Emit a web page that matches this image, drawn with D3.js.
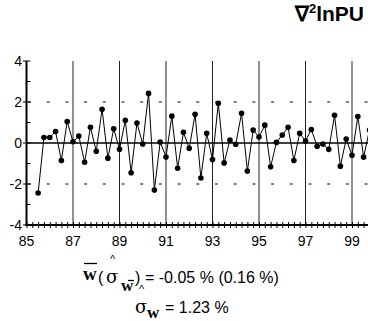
<!DOCTYPE html>
<html>
<head>
<meta charset="utf-8">
<script src="https://cdn.jsdelivr.net/npm/d3@7"></script>
<style>
  body { margin: 0; background: #fff; }
  svg { display: block; }
  text { font-family: "Liberation Sans", Arial, sans-serif; fill: #000; }
  .serif { font-family: "Liberation Serif", "Times New Roman", serif; font-weight: bold; }
  .greek { font-family: "DejaVu Serif", "Liberation Serif", serif; }
</style>
</head>
<body>
<div id="chart"></div>
<script>
// quarterly growth, second difference of ln PU (in %)
var quarters = ['85Q3','85Q4','86Q1','86Q2','86Q3','86Q4','87Q1','87Q2','87Q3','87Q4',
  '88Q1','88Q2','88Q3','88Q4','89Q1','89Q2','89Q3','89Q4','90Q1','90Q2','90Q3','90Q4',
  '91Q1','91Q2','91Q3','91Q4','92Q1','92Q2','92Q3','92Q4','93Q1','93Q2','93Q3','93Q4',
  '94Q1','94Q2','94Q3','94Q4','95Q1','95Q2','95Q3','95Q4','96Q1','96Q2','96Q3','96Q4',
  '97Q1','97Q2','97Q3','97Q4','98Q1','98Q2','98Q3','98Q4','99Q1','99Q2','99Q3','99Q4'];

var values = [-2.44, 0.27, 0.27, 0.56, -0.85, 1.05, 0.06, 0.34, -0.94, 0.77,
  -0.40, 1.65, -0.74, 0.69, -0.31, 1.11, -1.45, 0.97, -0.05, 2.42, -2.29, 0.05,
  -0.68, 1.31, -1.23, 0.52, -0.26, 1.40, -1.71, 0.47, -0.81, 1.94, -0.97, 0.15,
  -0.06, 1.45, -1.37, 0.63, 0.29, 0.87, -1.16, 0.03, 0.39, 0.77, -0.85, 0.47,
  0.10, 0.66, -0.16, -0.05, -0.31, 1.35, -1.13, 0.19, -0.60, 1.29, -0.69, 0.63];

var yearLabels = [85, 87, 89, 91, 93, 95, 97, 99];
var yMajor = [-4, -2, 0, 2, 4];
var yMinor = [-3, -1, 1, 3];
var bandLines = [87, 89, 91, 93, 95, 97, 99];

var width = 368,
    height = 321;

var x = d3.scaleLinear().domain([85, 99]).range([26.5, 352]);
var y = d3.scaleLinear().domain([-4, 4]).range([225, 61]);

function qTime(q) {
  return +q.slice(0, 2) + (+q.slice(3) - 1) / 4;
}

var data = quarters.map(function(q, i) { return { t: qTime(q), v: values[i] }; });

var svg = d3.select("#chart").append("svg")
    .attr("width", width)
    .attr("height", height);

svg.append("rect").attr("width", width).attr("height", height).attr("fill", "#fff");

// title
var title = svg.append("text")
    .attr("x", 364)
    .attr("y", 21)
    .attr("text-anchor", "end")
    .style("font-weight", "bold")
    .style("font-size", "21px");
title.append("tspan").text("∇");
title.append("tspan").attr("dy", -8).style("font-size", "13px").text("2");
title.append("tspan").attr("dy", 8).text("lnPU");

// vertical year lines
svg.selectAll(".vline")
  .data(bandLines)
  .enter().append("line")
  .attr("x1", function(d) { return x(d); })
  .attr("x2", function(d) { return x(d); })
  .attr("y1", y(4))
  .attr("y2", y(-4))
  .style("stroke", "#222")
  .style("stroke-width", "1px");

// dashed lines at +/-2
svg.selectAll(".grid")
  .data([-2, 2])
  .enter().append("line")
  .attr("x1", 28)
  .attr("x2", width)
  .attr("y1", function(d) { return y(d); })
  .attr("y2", function(d) { return y(d); })
  .style("stroke", "#000")
  .style("stroke-width", "1px")
  .style("stroke-dasharray", "3,15.7");

// zero line
svg.append("line")
  .attr("x1", x(85))
  .attr("x2", width)
  .attr("y1", y(0))
  .attr("y2", y(0))
  .style("stroke", "#000")
  .style("stroke-width", "1.5px");

var line = d3.line()
    .x(function(d) { return x(d.t); })
    .y(function(d) { return y(d.v); });

svg.append("path")
  .datum(data)
  .attr("d", line)
  .style("fill", "none")
  .style("stroke", "#000")
  .style("stroke-width", "1px");

svg.selectAll(".pt")
  .data(data)
  .enter().append("circle")
  .attr("cx", function(d) { return x(d.t); })
  .attr("cy", function(d) { return y(d.v); })
  .attr("r", 2.8)
  .attr("fill", "#000");

// x axis: quarterly ticks crossing the axis line
var qTicks = d3.range(85, 101, 0.25);
svg.append("g")
  .attr("transform", "translate(0," + y(-4) + ")")
  .call(d3.axisBottom(x).tickValues(qTicks).tickSize(3).tickFormat(""))
  .call(function(g) { g.select(".domain").remove(); });
svg.append("g")
  .attr("transform", "translate(0," + y(-4) + ")")
  .call(d3.axisTop(x).tickValues(qTicks).tickSize(3).tickFormat(""))
  .call(function(g) { g.select(".domain").remove(); });
svg.selectAll(".tick line").style("stroke", "#000");

svg.append("line")
  .attr("x1", x(85) - 1)
  .attr("x2", width)
  .attr("y1", y(-4))
  .attr("y2", y(-4))
  .style("stroke", "#000")
  .style("stroke-width", "2px");

svg.selectAll(".xlab")
  .data(yearLabels)
  .enter().append("text")
  .attr("x", function(d) { return x(d); })
  .attr("y", 246)
  .attr("text-anchor", "middle")
  .style("font-size", "14px")
  .text(function(d) { return d; });

// y axis
svg.append("line")
  .attr("x1", x(85))
  .attr("x2", x(85))
  .attr("y1", y(4))
  .attr("y2", y(-4) + 1)
  .style("stroke", "#000")
  .style("stroke-width", "2px");

svg.selectAll(".ymaj")
  .data(yMajor)
  .enter().append("line")
  .attr("x1", x(85) - 3.5)
  .attr("x2", x(85) + 4)
  .attr("y1", function(d) { return y(d); })
  .attr("y2", function(d) { return y(d); })
  .style("stroke", "#000")
  .style("stroke-width", "1px");

svg.selectAll(".ymin")
  .data(yMinor)
  .enter().append("line")
  .attr("x1", x(85))
  .attr("x2", x(85) + 4)
  .attr("y1", function(d) { return y(d); })
  .attr("y2", function(d) { return y(d); })
  .style("stroke", "#000")
  .style("stroke-width", "1px");

svg.selectAll(".ylab")
  .data(yMajor)
  .enter().append("text")
  .attr("x", 22)
  .attr("y", function(d) { return y(d); })
  .attr("dy", "0.36em")
  .attr("text-anchor", "end")
  .style("font-size", "14px")
  .text(function(d) { return d; });

// statistics below the chart
function bar(x1, x2, yy) {
  svg.append("line")
    .attr("x1", x1).attr("x2", x2)
    .attr("y1", yy).attr("y2", yy)
    .style("stroke", "#000")
    .style("stroke-width", "1.3px");
}

// line 1: mean of w with its std. error
svg.append("text").attr("class", "serif").attr("x", 83).attr("y", 280)
  .style("font-size", "19px").text("w");
bar(84, 97, 263.5);
svg.append("text").attr("x", 98).attr("y", 283).style("font-size", "16px").text("(");
svg.append("text").attr("class", "greek").attr("x", 106).attr("y", 283)
  .style("font-size", "18px").text("σ");
svg.append("text").attr("x", 110).attr("y", 263).style("font-size", "11px").text("^");
svg.append("text").attr("class", "serif").attr("x", 121).attr("y", 291)
  .style("font-size", "17px").text("w");
bar(128, 134, 280.5);
svg.append("text").attr("x", 135).attr("y", 283).style("font-size", "16px").text(")");
svg.append("text").attr("x", 145).attr("y", 283).style("font-size", "16px")
  .text("= -0.05 % (0.16 %)");

// line 2: std. deviation of w
svg.append("text").attr("x", 139).attr("y", 293).style("font-size", "11px").text("^");
svg.append("text").attr("class", "greek").attr("x", 135).attr("y", 313)
  .style("font-size", "18px").text("σ");
svg.append("text").attr("class", "serif").attr("x", 147).attr("y", 318)
  .style("font-size", "17px").text("w");
svg.append("text").attr("x", 165).attr("y", 313).style("font-size", "16px")
  .text("= 1.23 %");
</script>
</body>
</html>
